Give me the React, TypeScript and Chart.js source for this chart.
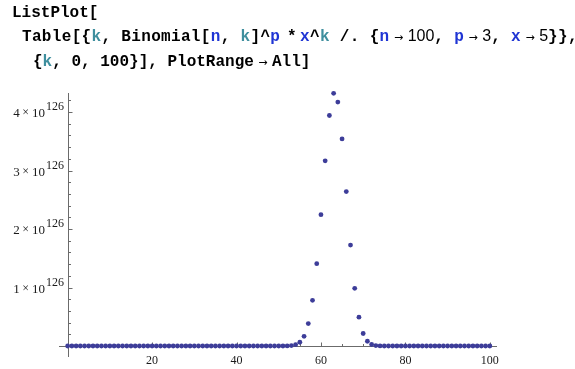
import React, { useEffect, useRef } from "react";
import { Chart, registerables } from "chart.js";

Chart.register(...registerables);

// k = 0..100 ; values in units of 10^126
const kValues = [
  0, 1, 2, 3, 4, 5, 6, 7, 8, 9, 10, 11, 12, 13, 14, 15, 16, 17, 18, 19, 20,
  21, 22, 23, 24, 25, 26, 27, 28, 29, 30, 31, 32, 33, 34, 35, 36, 37, 38, 39, 40,
  41, 42, 43, 44, 45, 46, 47, 48, 49, 50, 51, 52, 53, 54, 55, 56, 57, 58, 59, 60,
  61, 62, 63, 64, 65, 66, 67, 68, 69, 70, 71, 72, 73, 74, 75, 76, 77, 78, 79, 80,
  81, 82, 83, 84, 85, 86, 87, 88, 89, 90, 91, 92, 93, 94, 95, 96, 97, 98, 99, 100,
];
const yValues = [
  // k = 0..10
  0, 0, 0, 0, 0, 0, 0, 0, 0, 0, 0,
  // k = 11..20
  0, 0, 0, 0, 0, 0, 0, 0, 0, 0,
  // k = 21..30
  0, 0, 0, 0, 0, 0, 0, 0, 0, 0,
  // k = 31..40
  0, 0, 0, 0, 0, 0, 0, 0, 0, 0,
  // k = 41..50
  0, 0, 0, 0, 0, 0, 0, 0, 0, 0.0001,
  // k = 51..60
  0.0004, 0.0018, 0.0067, 0.022, 0.064, 0.166, 0.383, 0.78, 1.407, 2.245,
  // k = 61..70
  3.165, 3.94, 4.32, 4.17, 3.54, 2.64, 1.726, 0.986, 0.492, 0.214,
  // k = 71..80
  0.081, 0.026, 0.0074, 0.0018, 0.0004, 0, 0, 0, 0, 0,
  // k = 81..90
  0, 0, 0, 0, 0, 0, 0, 0, 0, 0,
  // k = 91..100
  0, 0, 0, 0, 0, 0, 0, 0, 0, 0,
];

const xMajorTicks = [20, 40, 60, 80, 100];
const xMajorLabels = ["20", "40", "60", "80", "100"];
const xMinorTicks = [
  5, 10, 15, 25, 30, 35, 45, 50, 55, 65, 70, 75, 85, 90, 95,
];
const yMajorTicks = [1, 2, 3, 4];
const yMantissaLabels = ["1", "2", "3", "4"];
const yExponentLabel = "126";
const yMinorTicks = [
  0.2, 0.4, 0.6, 0.8, 1.2, 1.4, 1.6, 1.8, 2.2, 2.4, 2.6, 2.8, 3.2, 3.4, 3.6,
  3.8, 4.2,
];

const POINT_COLOR = "#3d3d99";
const AXIS_COLOR = "#6b6b6b";
const LABEL_COLOR = "#1a1a1a";
const SERIF = '"Liberation Serif", "Times New Roman", serif';

const axesPlugin = {
  id: "mmaAxes",
  beforeDatasetsDraw(chart: any) {
    const ctx = chart.ctx as CanvasRenderingContext2D;
    const xs = chart.scales.x;
    const ys = chart.scales.y;
    const { left, right, top, bottom } = chart.chartArea;
    const x0 = Math.round(xs.getPixelForValue(0)) + 0.5;
    const y0 = Math.round(ys.getPixelForValue(0)) + 0.5;
    ctx.save();
    ctx.strokeStyle = AXIS_COLOR;
    ctx.lineWidth = 1;
    ctx.beginPath();
    ctx.moveTo(left, y0);
    ctx.lineTo(right, y0);
    ctx.moveTo(x0, top);
    ctx.lineTo(x0, bottom);
    for (const v of xMajorTicks) {
      const p = Math.round(xs.getPixelForValue(v)) + 0.5;
      ctx.moveTo(p, y0);
      ctx.lineTo(p, y0 - 4);
    }
    for (const v of xMinorTicks) {
      const p = Math.round(xs.getPixelForValue(v)) + 0.5;
      ctx.moveTo(p, y0);
      ctx.lineTo(p, y0 - 2.5);
    }
    for (const v of yMajorTicks) {
      const p = Math.round(ys.getPixelForValue(v)) + 0.5;
      ctx.moveTo(x0, p);
      ctx.lineTo(x0 + 4, p);
    }
    for (const v of yMinorTicks) {
      const p = Math.round(ys.getPixelForValue(v)) + 0.5;
      ctx.moveTo(x0, p);
      ctx.lineTo(x0 + 2.5, p);
    }
    ctx.stroke();

    ctx.fillStyle = LABEL_COLOR;
    ctx.font = `12px ${SERIF}`;
    ctx.textAlign = "center";
    ctx.textBaseline = "alphabetic";
    xMajorTicks.forEach((v, i) => {
      const p = xs.getPixelForValue(v);
      ctx.fillText(xMajorLabels[i], p, y0 + 17);
    });

    const rightEdge = x0 - 4.5;
    yMajorTicks.forEach((v, i) => {
      const p = ys.getPixelForValue(v);
      ctx.textAlign = "right";
      ctx.font = `12px ${SERIF}`;
      ctx.fillText(yExponentLabel, rightEdge, p - 2);
      const supW = ctx.measureText(yExponentLabel).width;
      ctx.font = `13px ${SERIF}`;
      let xr = rightEdge - supW - 1;
      ctx.fillText("10", xr, p + 5);
      xr -= ctx.measureText("10").width + 3;
      ctx.font = `12px ${SERIF}`;
      ctx.fillText("\u00d7", xr, p + 4);
      xr -= ctx.measureText("\u00d7").width + 2.5;
      ctx.font = `13px ${SERIF}`;
      ctx.fillText(yMantissaLabels[i], xr, p + 5);
    });
    ctx.restore();
  },
};

const MONO: React.CSSProperties = {
  fontFamily: '"Liberation Mono", "Courier New", monospace',
  fontWeight: 700,
  fontSize: 16,
};
const SANS: React.CSSProperties = {
  fontFamily: '"Liberation Sans", Arial, sans-serif',
  fontWeight: 400,
  fontSize: 16,
};
const ARROW: React.CSSProperties = {
  fontFamily: '"DejaVu Sans", sans-serif',
  fontWeight: 400,
  fontSize: 11,
};
const TEAL = "#3f8f9e";
const BLUE = "#1f35d4";

const M = ({ t, c, ls }: { t: string; c?: string; ls?: number }) => (
  <span style={{ ...MONO, color: c || "#000", letterSpacing: ls ? `${ls}px` : undefined }}>
    {t}
  </span>
);
const S = ({ t }: { t: string }) => <span style={{ ...SANS, color: "#000" }}>{t}</span>;
const Arr = () => (
  <>
    <S t=" " />
    <span style={{ ...ARROW, color: "#000" }}>{"\u2192"}</span>
    <S t=" " />
  </>
);

const lineStyle = (left: number, top: number): React.CSSProperties => ({
  position: "absolute",
  left,
  top,
  lineHeight: "16px",
  whiteSpace: "pre",
  zIndex: 2,
});

const LS = 0.33;

export default function App() {
  const canvasRef = useRef<HTMLCanvasElement | null>(null);

  useEffect(() => {
    if (!canvasRef.current) return;
    const chart = new Chart(canvasRef.current, {
      type: "scatter",
      data: {
        datasets: [
          {
            data: kValues.map((k, i) => ({ x: k, y: yValues[i] })),
            pointRadius: 2.4,
            pointBackgroundColor: POINT_COLOR,
            pointBorderWidth: 0,
            pointBorderColor: POINT_COLOR,
            showLine: false,
            clip: false as any,
          },
        ],
      },
      options: {
        animation: false,
        responsive: false,
        devicePixelRatio: 1,
        layout: { padding: { left: 59, right: 78, top: 93, bottom: 12 } },
        scales: {
          x: { type: "linear", min: -2.05, max: 101.7, display: false },
          y: { type: "linear", min: -0.188, max: 4.325, display: false },
        },
        plugins: {
          legend: { display: false },
          tooltip: { enabled: false },
        },
        events: [],
      },
      plugins: [axesPlugin],
    });
    return () => chart.destroy();
  }, []);

  return (
    <div
      style={{
        position: "absolute",
        left: 0,
        top: 0,
        width: 575,
        height: 369,
        background: "#fff",
        overflow: "hidden",
      }}
    >
      <div style={lineStyle(12, 4)}>
        <M t="ListPlot[" />
      </div>
      <div style={lineStyle(22, 28)}>
        <M t="Table[{" ls={LS} />
        <M t="k" c={TEAL} ls={LS} />
        <M t=", Binomial[" ls={LS} />
        <M t="n" c={BLUE} ls={LS} />
        <M t=", " ls={LS} />
        <M t="k" c={TEAL} ls={LS} />
        <M t="]^" ls={LS} />
        <M t="p" c={BLUE} ls={LS} />
        <M t=" * " ls={-3} />
        <M t="x" c={BLUE} ls={LS} />
        <M t="^" ls={LS} />
        <M t="k" c={TEAL} ls={LS} />
        <M t=" /. {" ls={LS} />
        <M t="n" c={BLUE} ls={LS} />
        <Arr />
        <S t="100" />
        <M t=", " ls={LS} />
        <M t="p" c={BLUE} ls={LS} />
        <Arr />
        <S t="3" />
        <M t=", " ls={LS} />
        <M t="x" c={BLUE} ls={LS} />
        <Arr />
        <S t="5" />
        <M t="}}," ls={LS} />
      </div>
      <div style={lineStyle(33, 53)}>
        <M t="{" />
        <M t="k" c={TEAL} />
        <M t=", 0, 100}], PlotRange" />
        <Arr />
        <M t="All]" />
      </div>
      <canvas
        ref={canvasRef}
        width={575}
        height={369}
        style={{ position: "absolute", left: 0, top: 0, display: "block" }}
      />
    </div>
  );
}
